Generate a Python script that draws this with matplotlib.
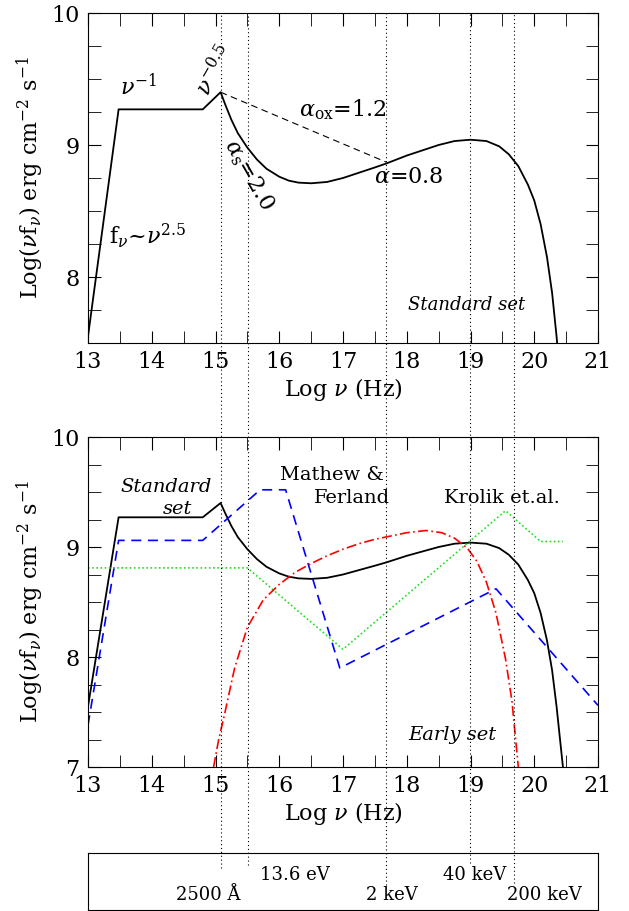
import matplotlib
matplotlib.use("Agg")
import matplotlib.pyplot as plt
from matplotlib.ticker import MultipleLocator

plt.rcParams['font.family'] = ['DejaVu Serif']
plt.rcParams['mathtext.fontset'] = 'dejavuserif'

# Standard set
std_x = [13.0, 13.48, 14.8, 15.08, 15.15, 15.25, 15.35, 15.5, 15.65, 15.8, 16.0, 16.15, 16.3, 16.5, 16.75,
         17.0, 17.25, 17.5, 17.68, 18.0, 18.25, 18.5, 18.75, 19.0, 19.25, 19.45, 19.6, 19.75, 19.9,
         20.0, 20.1, 20.2, 20.28, 20.35, 20.45]
std_y = [7.55, 9.27, 9.27, 9.40, 9.31, 9.19, 9.09, 8.98, 8.89, 8.82, 8.76, 8.73, 8.715, 8.71, 8.72,
         8.75, 8.79, 8.83, 8.86, 8.92, 8.96, 9.00, 9.03, 9.04, 9.03, 8.99, 8.93, 8.84, 8.70,
         8.58, 8.40, 8.15, 7.88, 7.55, 7.00]
aox_x = [15.08, 17.68]
aox_y = [9.40, 8.87]
# Mathews & Ferland
mf_x = [13.0, 13.48, 14.8, 15.7, 16.1, 16.95, 19.4, 21.0]
mf_y = [7.38, 9.06, 9.06, 9.52, 9.52, 7.90, 8.62, 7.56]
# Krolik et al.
kr_x = [13.0, 15.5, 17.0, 19.55, 20.1, 20.45]
kr_y = [8.81, 8.81, 8.07, 9.33, 9.05, 9.05]
# Early set
ea_x = [14.97, 15.05, 15.15, 15.3, 15.5, 15.75, 16.0, 16.25, 16.5, 16.75, 17.0, 17.25, 17.5, 17.75,
        18.0, 18.3, 18.55, 18.75, 18.95, 19.1, 19.25, 19.4, 19.55, 19.65, 19.75]
ea_y = [7.0, 7.25, 7.5, 7.9, 8.27, 8.52, 8.66, 8.77, 8.85, 8.92, 8.98, 9.03, 9.07, 9.10,
        9.13, 9.15, 9.13, 9.08, 8.99, 8.87, 8.68, 8.40, 7.98, 7.6, 7.0]
# reference frequencies
ref_x = [15.08, 15.516, 17.68, 18.99, 19.68]
ref_lab = ["2500 Å", "13.6 eV", "2 keV", "40 keV", "200 keV"]

W, H = 629, 911
fig = plt.figure(figsize=(W/100, H/100), dpi=100)
L, Wd = 88/W, 510/W
ax1 = fig.add_axes([L, 1-343/H, Wd, 330/H])
ax2 = fig.add_axes([L, 1-767/H, Wd, 330/H])
ax3 = fig.add_axes([L, 1-910/H, Wd, 57/H])
ov = fig.add_axes([L, 0, Wd, 1], facecolor='none')
for a in (ax1, ax2, ax3, ov):
    a.set_xlim(13, 21)
ov.set_ylim(0, 1)
ov.axis('off')
ax3.set_xticks([]); ax3.set_yticks([]); ax3.set_ylim(0, 1)

ylab = r'Log($\nu$f$_\nu$) erg cm$^{-2}$ s$^{-1}$'
for a, ylo in ((ax1, 7.5), (ax2, 7.0)):
    a.set_ylim(ylo, 10)
    a.xaxis.set_major_locator(MultipleLocator(1))
    a.xaxis.set_minor_locator(MultipleLocator(0.5))
    a.yaxis.set_major_locator(MultipleLocator(1))
    a.yaxis.set_minor_locator(MultipleLocator(0.25))
    a.tick_params(which='both', direction='in', top=True, right=True, labelsize=16)
    a.tick_params(which='major', length=9, pad=6)
    a.tick_params(which='minor', length=9)
    a.set_xlabel(r'Log $\nu$ (Hz)', fontsize=16, labelpad=2)
    a.set_ylabel(ylab, fontsize=16, labelpad=4)
    a.plot(std_x, std_y, color='black', lw=1.3)

ax1.plot(aox_x, aox_y, color='black', lw=0.8, ls=(0, (6, 4)))
ax1.text(13.5, 9.38, r'$\nu^{-1}$', fontsize=16)
ax1.text(14.99, 9.56, r'$\nu^{-0.5}$', fontsize=16, rotation=60, ha='center', va='center')
ax1.text(17.0, 9.27, r'$\alpha_{\rm ox}$=1.2', fontsize=16, ha='center', va='center')
ax1.text(15.52, 8.77, r'$\alpha_{\rm s}$=2.0', fontsize=16, rotation=-60, ha='center', va='center')
ax1.text(18.03, 8.76, r'$\alpha$=0.8', fontsize=16, ha='center', va='center')
ax1.text(13.33, 8.31, r'f$_\nu$~$\nu^{2.5}$', fontsize=16, va='center')
ax1.text(18.94, 7.79, 'Standard set', fontsize=13, style='italic', ha='center', va='center')

ax2.plot(mf_x, mf_y, color='blue', lw=1.2, ls=(0, (6, 4)))
ax2.plot(kr_x, kr_y, color='#22dd22', lw=1.2, ls=(0, (1, 1.5)))
ax2.plot(ea_x, ea_y, color='red', lw=1.2, ls=(0, (6, 2, 1, 2)))
ax2.text(14.22, 9.55, 'Standard', fontsize=14, style='italic', ha='center', va='center')
ax2.text(14.41, 9.35, 'set', fontsize=14, style='italic', ha='center', va='center')
ax2.text(16.82, 9.65, 'Mathew &', fontsize=14, ha='center', va='center')
ax2.text(17.14, 9.45, 'Ferland', fontsize=14, ha='center', va='center')
ax2.text(19.49, 9.45, 'Krolik et.al.', fontsize=14, ha='center', va='center')
ax2.text(18.72, 7.29, 'Early set', fontsize=14, style='italic', ha='center', va='center')

ends = [868, 865, 885, 863, 883]
for x, e in zip(ref_x, ends):
    ov.axvline(x, ymin=1-e/H, ymax=1-13/H, color='black', lw=0.8, ls=(0, (1, 2.5)), zorder=0)

lab_x = [14.88, 16.24, 17.76, 19.07, 20.16]
lab_y = [0.27, 0.62, 0.27, 0.62, 0.27]
for x, y, t in zip(lab_x, lab_y, ref_lab):
    ax3.text(x, y, t, fontsize=13, ha='center', va='center')

fig.savefig('out.png', dpi=100)
